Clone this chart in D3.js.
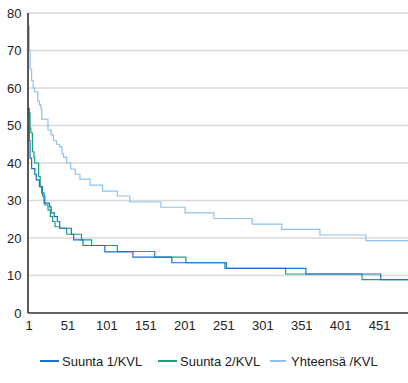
<!DOCTYPE html>
<html>
<head>
<meta charset="utf-8">
<script src="https://cdn.jsdelivr.net/npm/d3@7"></script>
<style>
  html, body { margin: 0; padding: 0; background: #fff; }
  svg { display: block; font-family: "Liberation Sans", Arial, sans-serif; }
</style>
</head>
<body>
<svg id="chart" width="408" height="383"></svg>
<script>
// ---- data (step series: index where a level starts, and level value) ----
const pointCount = 488;
const xTicks = [1, 51, 101, 151, 201, 251, 301, 351, 401, 451];
const yTicks = [0, 10, 20, 30, 40, 50, 60, 70, 80];
const seriesNames = ["Suunta 1/KVL", "Suunta 2/KVL", "Yhteensä /KVL"];

const suunta1Idx = [1, 2, 3, 5, 9, 11, 15, 18, 21, 28, 30, 34, 38, 41, 56, 59, 71, 99, 135, 185, 255, 357, 453];
const suunta1Val = [54.6, 46, 41.3, 38.5, 37, 35.5, 33.7, 32, 29.3, 28.3, 26.7, 25.7, 24.4, 22.6, 21, 19.5, 18, 16.3, 14.9, 13.4, 11.9, 10.4, 8.9];

const suunta2Idx = [1, 3, 4, 6, 8, 9, 14, 16, 19, 22, 26, 29, 32, 35, 41, 50, 69, 82, 115, 163, 203, 253, 331, 429];
const suunta2Val = [53.3, 49.3, 48, 43, 41.5, 40, 36.4, 33.7, 31.2, 28.8, 27.5, 25.7, 24.4, 23, 22.6, 21, 19.5, 18, 16.4, 14.9, 13.4, 11.9, 10.4, 8.9];

const yhteensaIdx = [1, 2, 3, 5, 7, 9, 13, 15, 17, 18, 26, 30, 33, 37, 41, 44, 46, 50, 55, 61, 67, 80, 96, 115, 131, 171, 202, 239, 288, 326, 375, 434];
const yhteensaVal = [76.5, 70, 65, 62, 60, 59, 56.5, 55.5, 54.4, 51.7, 48.8, 47.5, 46, 45, 44.3, 42.5, 41.5, 40, 38.4, 37, 35.7, 34.1, 32.5, 31.2, 29.6, 28.2, 26.7, 25.2, 23.7, 22.3, 20.8, 19.3];

const colors = ["#1d6fd1", "#17a37c", "#8fc1ea"];

// ---- layout ----
const svg = d3.select("#chart");
const mLeft = 28.5, mRight = 408, mTop = 13, mBottom = 313;

const x = d3.scaleLinear().domain([1, pointCount]).range([mLeft, mRight]);
const y = d3.scaleLinear().domain([0, 80]).range([mBottom, mTop]);

// gridlines
svg.append("g")
  .selectAll("line")
  .data(yTicks.filter(d => d > 0))
  .join("line")
  .attr("x1", mLeft).attr("x2", mRight)
  .attr("y1", d => y(d)).attr("y2", d => y(d))
  .attr("stroke", "#d9d9d9").attr("stroke-width", 1.3);

// y axis labels
const yAxis = d3.axisLeft(y).tickValues(yTicks).tickSize(0).tickPadding(7);
const gy = svg.append("g").attr("transform", `translate(${mLeft},0)`).call(yAxis);
gy.select(".domain").remove();
gy.selectAll("text").attr("font-size", 13).attr("fill", "#222")
  .attr("font-family", "Liberation Sans, Arial, sans-serif");

// x axis labels
const xAxis = d3.axisBottom(x).tickValues(xTicks).tickSize(0).tickPadding(8).tickFormat(d3.format("d"));
const gx = svg.append("g").attr("transform", `translate(0,${mBottom})`).call(xAxis);
gx.select(".domain").remove();
gx.selectAll("text").attr("font-size", 13).attr("fill", "#222")
  .attr("font-family", "Liberation Sans, Arial, sans-serif");

// series
function buildSeries(idx, val) {
  const pts = idx.map((d, i) => ({ i: d, v: val[i] }));
  pts.push({ i: pointCount, v: val[val.length - 1] });
  return pts;
}
const allSeries = [
  buildSeries(suunta1Idx, suunta1Val),
  buildSeries(suunta2Idx, suunta2Val),
  buildSeries(yhteensaIdx, yhteensaVal)
];

const line = d3.line().x(d => x(d.i)).y(d => y(d.v)).curve(d3.curveStepAfter);

svg.append("g")
  .selectAll("path")
  .data([2, 1, 0])
  .join("path")
  .attr("d", k => line(allSeries[k]))
  .attr("fill", "none")
  .attr("stroke", k => colors[k])
  .attr("stroke-width", 1.2);

// axis lines
svg.append("line").attr("x1", mLeft - 0.5).attr("x2", mRight).attr("y1", mBottom).attr("y2", mBottom)
  .attr("stroke", "#666").attr("stroke-width", 2);
svg.append("line").attr("x1", mLeft - 0.5).attr("x2", mLeft - 0.5).attr("y1", mTop).attr("y2", mBottom)
  .attr("stroke", "#222").attr("stroke-width", 1.5);

// legend
const legendX = [40, 158, 270];
const lg = svg.append("g").selectAll("g").data(seriesNames).join("g")
  .attr("transform", (d, i) => `translate(${legendX[i]},361)`);
lg.append("line")
  .attr("x1", 0).attr("y1", 0).attr("y2", 0)
  .attr("x2", (d, i) => i === 2 ? 16 : 19)
  .attr("stroke", (d, i) => colors[i]).attr("stroke-width", 2);
lg.append("text")
  .attr("x", (d, i) => i === 2 ? 21 : 22)
  .attr("y", 4.5)
  .attr("font-size", 13).attr("fill", "#222")
  .text(d => d);
</script>
</body>
</html>
